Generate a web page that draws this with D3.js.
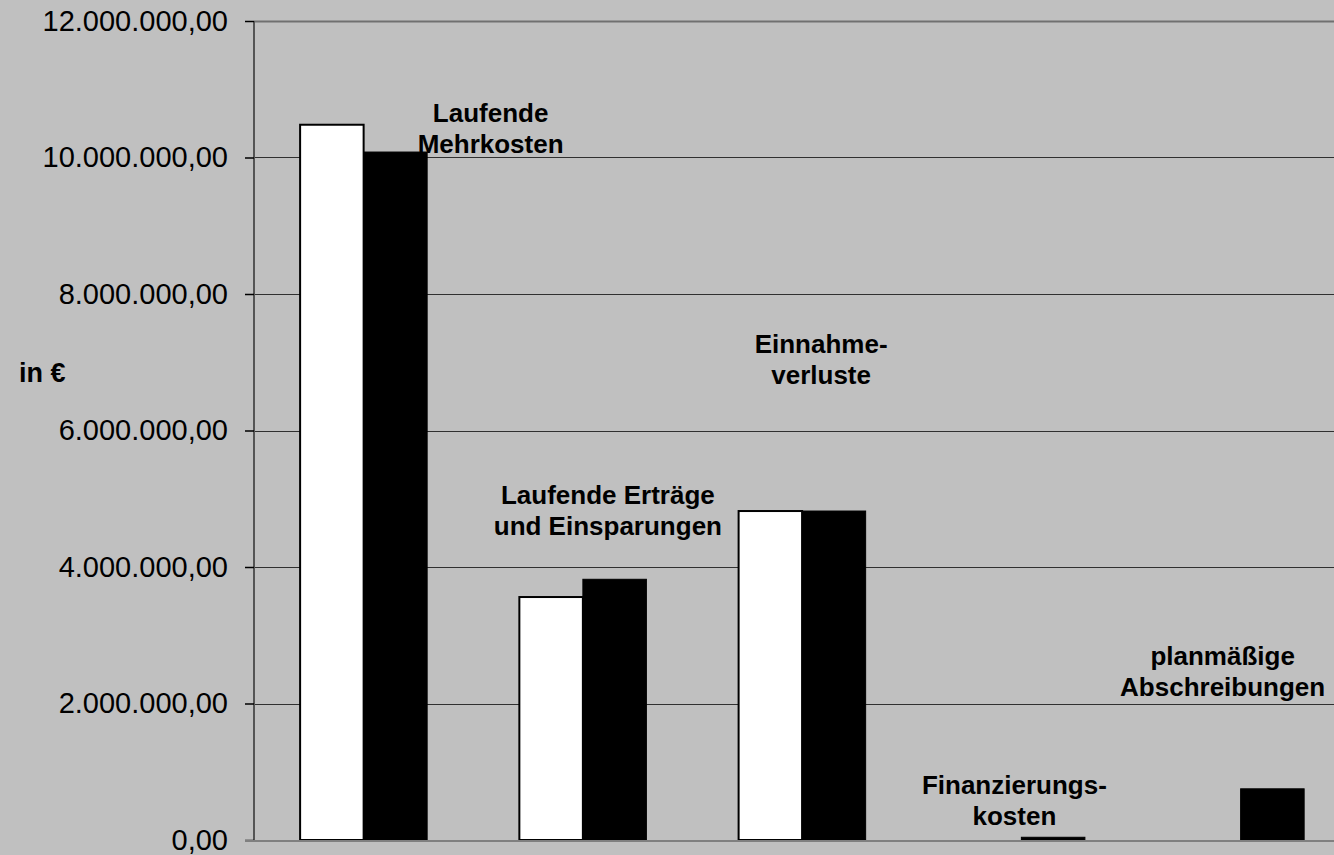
<!DOCTYPE html>
<html>
<head>
<meta charset="utf-8">
<script src="https://cdn.jsdelivr.net/npm/d3@7"></script>
<style>
  html, body { margin: 0; padding: 0; background: #c0c0c0; }
  svg { display: block; }
  text { font-family: "Liberation Sans", Arial, sans-serif; fill: #000; }
</style>
</head>
<body>
<svg id="chart" width="1334" height="855"></svg>
<script>
// ---- data ----
const categories = ["Laufende Mehrkosten", "Laufende Erträge und Einsparungen", "Einnahmeverluste", "Finanzierungskosten", "planmäßige Abschreibungen"];
const categoryLabelLines = [
  ["Laufende", "Mehrkosten"],
  ["Laufende Erträge", "und Einsparungen"],
  ["Einnahme-", "verluste"],
  ["Finanzierungs-", "kosten"],
  ["planmäßige", "Abschreibungen"]
];
const seriesA = [10480000, 3560000, 4820000, 0, 0];        // white bars
const seriesB = [10080000, 3820000, 4820000, 40000, 750000]; // black bars
const yTicks = [0, 2000000, 4000000, 6000000, 8000000, 10000000, 12000000];
const yAxisTitle = "in €";

// ---- layout (not data) ----
const labelDx = [127, 25, 19, -7, -18];
const labelBaseline = [122, 504, 353, 794, 665];

(function () {
const svg = d3.select("#chart");
const W = 1334;
const mLeft = 254, mTop = 21, mBottom = 840;

const x0 = d3.scaleBand().domain(categories).range([mLeft, mLeft + 5 * 219.25]).padding(0);
const x1 = d3.scaleBand().domain(["A", "B"]).range([0, x0.bandwidth()]).paddingInner(0).paddingOuter(0.726);
const y = d3.scaleLinear().domain([0, 12000000]).range([mBottom, mTop]);

const de = d3.formatLocale({decimal: ",", thousands: ".", grouping: [3], currency: ["", "€"]});
const fmt = de.format(",.2f");

// gridlines
svg.append("g").selectAll("line").data(yTicks.filter(d => d > 0)).join("line")
  .attr("x1", mLeft).attr("x2", W)
  .attr("y1", d => Math.round(y(d)) + 0.5).attr("y2", d => Math.round(y(d)) + 0.5)
  .attr("stroke", d => d === 12000000 ? "#707070" : "#303030")
  .attr("stroke-width", d => d === 12000000 ? 2 : 1);

// bars
const groups = svg.append("g").selectAll("g").data(categories).join("g")
  .attr("transform", d => `translate(${x0(d)},0)`);

groups.append("rect")
  .attr("x", x1("A"))
  .attr("width", x1.bandwidth())
  .attr("y", (d, i) => y(seriesA[i]))
  .attr("height", (d, i) => y(0) - y(seriesA[i]))
  .attr("fill", "#fff")
  .attr("stroke", "#000")
  .attr("stroke-width", (d, i) => seriesA[i] > 0 ? 2 : 0);

groups.append("rect")
  .attr("x", x1("B"))
  .attr("width", x1.bandwidth())
  .attr("y", (d, i) => y(seriesB[i]))
  .attr("height", (d, i) => y(0) - y(seriesB[i]))
  .attr("fill", "#000")
  .attr("stroke", "#000")
  .attr("stroke-width", 1);

// y axis
const yAxis = d3.axisLeft(y).tickValues(yTicks).tickFormat(fmt).tickSize(9).tickPadding(17);
const ag = svg.append("g").attr("transform", `translate(${mLeft},0)`).call(yAxis);
ag.select(".domain").attr("stroke", "#555").attr("stroke-width", 2).attr("d", `M0,${mTop}V${mBottom}`);
ag.selectAll(".tick line").attr("stroke", "#000").attr("stroke-width", 1.5);
ag.selectAll(".tick text").attr("font-size", 29).attr("font-family", "Liberation Sans, Arial, sans-serif").attr("fill", "#000");

// x axis baseline
svg.append("line").attr("x1", mLeft - 9).attr("x2", W)
  .attr("y1", mBottom + 1).attr("y2", mBottom + 1)
  .attr("stroke", "#808080").attr("stroke-width", 2);

// category labels
categories.forEach((c, i) => {
  const t = svg.append("text")
    .attr("text-anchor", "middle")
    .attr("font-size", 26).attr("font-weight", "bold");
  categoryLabelLines[i].forEach((ln, j) => {
    t.append("tspan")
      .attr("x", x0(c) + x0.bandwidth() / 2 + labelDx[i])
      .attr("y", labelBaseline[i] + j * 31)
      .text(ln);
  });
});

// y axis title
svg.append("text").attr("x", 19).attr("y", 382)
  .attr("font-size", 27).attr("font-weight", "bold").text(yAxisTitle);
})();
</script>
</body>
</html>
